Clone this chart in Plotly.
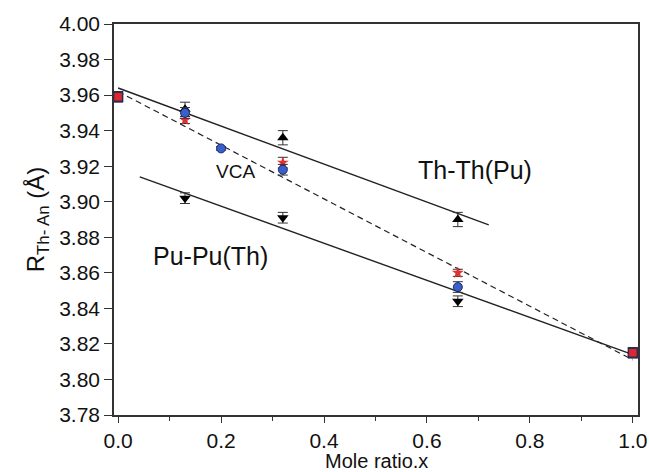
import plotly.graph_objects as go

# mole ratio x and R(Th-An) values
x_end = [0.0, 1.0]
y_end = [3.959, 3.815]

x_thth = [0.13, 0.32, 0.66]
y_thth = [3.952, 3.936, 3.890]
e_thth = [0.004, 0.004, 0.004]

x_pupu = [0.13, 0.32, 0.66]
y_pupu = [3.902, 3.891, 3.844]
e_pupu = [0.003, 0.003, 0.003]

x_vca = [0.13, 0.20, 0.32, 0.66]
y_vca = [3.950, 3.930, 3.918, 3.852]
e_vca = [0.003, 0.001, 0.003, 0.003]

x_star = [0.13, 0.32, 0.66]
y_star = [3.946, 3.922, 3.860]
e_star = [0.002, 0.003, 0.002]

# fitted lines
fit_thth_x = [0.0, 0.72]
fit_thth_y = [3.964, 3.887]
fit_vca_x = [0.0, 1.0]
fit_vca_y = [3.962, 3.811]
fit_pupu_x = [0.042, 1.0]
fit_pupu_y = [3.914, 3.814]

FONT = "Arial, Liberation Sans, sans-serif"

fig = go.Figure()

fig.add_trace(go.Scatter(x=fit_thth_x, y=fit_thth_y, mode="lines",
                         line=dict(color="#222", width=1.4), showlegend=False))
fig.add_trace(go.Scatter(x=fit_vca_x, y=fit_vca_y, mode="lines",
                         line=dict(color="#222", width=1.2, dash="6px,4px"), showlegend=False))
fig.add_trace(go.Scatter(x=fit_pupu_x, y=fit_pupu_y, mode="lines",
                         line=dict(color="#222", width=1.4), showlegend=False))

fig.add_trace(go.Scatter(
    x=x_thth, y=y_thth, mode="markers",
    error_y=dict(type="data", array=e_thth, color="#333", thickness=1, width=5),
    marker=dict(symbol="triangle-up", size=10, color="black"), showlegend=False))
fig.add_trace(go.Scatter(
    x=x_pupu, y=y_pupu, mode="markers",
    error_y=dict(type="data", array=e_pupu, color="#333", thickness=1, width=5),
    marker=dict(symbol="triangle-down", size=10, color="black"), showlegend=False))
fig.add_trace(go.Scatter(
    x=x_star, y=y_star, mode="markers",
    error_y=dict(type="data", array=e_star, color="#333", thickness=1, width=5),
    marker=dict(symbol="star", size=9, color="#e03030"), showlegend=False))
fig.add_trace(go.Scatter(
    x=x_vca, y=y_vca, mode="markers",
    error_y=dict(type="data", array=e_vca, color="#333", thickness=1, width=5),
    marker=dict(symbol="circle", size=9, color="#3a5fc8",
                line=dict(color="#1a2a70", width=1)), showlegend=False))
fig.add_trace(go.Scatter(
    x=x_end, y=y_end, mode="markers",
    error_y=dict(type="data", array=[0.003, 0.003], color="#333", thickness=1, width=5),
    marker=dict(symbol="square", size=9, color="#e02828",
                line=dict(color="#2a2a60", width=1.5)), showlegend=False, cliponaxis=False))

labels = [("Th-Th(Pu)", 0.694, 3.918, 25), ("VCA", 0.228, 3.917, 19), ("Pu-Pu(Th)", 0.18, 3.8695, 25)]
for txt, lx, ly, fs in labels:
    fig.add_annotation(x=lx, y=ly, text=txt, showarrow=False,
                       font=dict(family=FONT, size=fs, color="#111"))

# x-axis title as a paper annotation so it sits just under the tick labels
fig.add_annotation(x=0.5, y=0, xref="paper", yref="paper", yanchor="top", yshift=-33,
                   text="Mole ratio.x", showarrow=False,
                   font=dict(family=FONT, size=20, color="#111"))

fig.update_xaxes(
    range=[-0.008, 1.01], tickvals=[0, 0.2, 0.4, 0.6, 0.8, 1.0], tickformat=".1f",
    ticks="outside", ticklen=6, tickwidth=1.3, tickcolor="#333",
    minor=dict(dtick=0.1, tick0=0, ticks="outside", ticklen=4, tickcolor="#333", tickwidth=1.2),
    showline=True, linecolor="#333", linewidth=1.5, mirror=True, showgrid=False, zeroline=False,
    tickfont=dict(family=FONT, size=21, color="#111"), automargin=False,
)
fig.update_yaxes(
    range=[3.78, 4.0], dtick=0.02, tick0=3.78, tickformat=".2f",
    ticks="outside", ticklen=8, tickwidth=1.3, tickcolor="#333",
    showline=True, linecolor="#333", linewidth=1.5, mirror=True, showgrid=False, zeroline=False,
    tickfont=dict(family=FONT, size=21, color="#111"), automargin=False,
    title=dict(text="R<sub>Th- An</sub> (Å)", font=dict(family=FONT, size=24, color="#111"), standoff=8),
)

fig.update_layout(
    width=649, height=472,
    margin=dict(l=114, r=11, t=24, b=57),
    plot_bgcolor="white", paper_bgcolor="white",
)

# the page body has a default margin; drop it so the figure sits at the window origin
fig.write_html("out.html", config={"displayModeBar": False},
               post_script="document.body.style.margin='0';")
